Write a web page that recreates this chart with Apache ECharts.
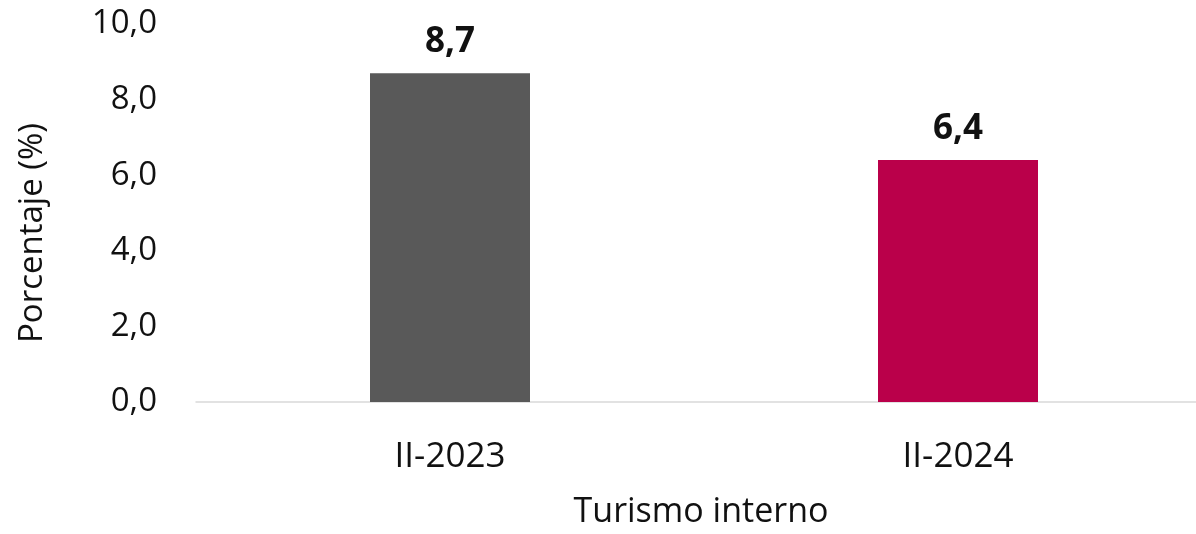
<!DOCTYPE html>
<html><head><meta charset="utf-8">
<script src="https://cdn.jsdelivr.net/npm/echarts@6/dist/echarts.min.js"></script>
<style>html,body{margin:0;padding:0;background:#fff;overflow:hidden;}#c{width:1196px;height:534px;}</style>
</head><body><div id="c"></div>
<script>
const categories = ['II-2023', 'II-2024'];
const values = [8.7, 6.4];
const barColors = ['#595959', '#BA004A'];
const yTicks = [0, 2, 4, 6, 8, 10];
const categoryPositions = [0, 1];

const FONT = '"Open Sans", "Noto Sans", sans-serif';
const chart = echarts.init(document.getElementById('c'), null, {renderer: 'canvas'});
chart.setOption({
  animation: false,
  grid: {left: 196, top: 24, right: 0, height: 381, containLabel: false},
  xAxis: {
    type: 'value', min: -0.5, max: 1.4685,
    name: 'Turismo interno', nameLocation: 'middle', nameGap: 93,
    nameTextStyle: {fontFamily: FONT, fontSize: 34, color: '#111', padding: [0, 0, 0, 10]},
    axisLine: {show: true, onZero: false, lineStyle: {color: '#d9d9d9', width: 1.5}},
    axisTick: {show: false},
    splitLine: {show: false},
    axisLabel: {customValues: categoryPositions, fontFamily: FONT, fontSize: 35, color: '#111', margin: 38,
      formatter: v => categories[Math.round(v)] || ''}
  },
  yAxis: {
    type: 'value', min: yTicks[0], max: yTicks[yTicks.length - 1], interval: 2,
    name: 'Porcentaje (%)', nameLocation: 'middle', nameGap: 147, nameRotate: 90,
    nameTextStyle: {fontFamily: FONT, fontSize: 33, color: '#111', padding: [0, 40, 0, 0]},
    axisLine: {show: false}, axisTick: {show: false}, splitLine: {show: false},
    axisLabel: {fontFamily: FONT, fontSize: 33, color: '#111', margin: 39,
      formatter: v => v.toFixed(1).replace('.', ',')}
  },
  series: [{
    type: 'bar', barWidth: 160,
    data: values.map((v, i) => ({value: [categoryPositions[i], v], itemStyle: {color: barColors[i]}})),
    label: {show: true, position: 'top', distance: 14, fontFamily: FONT, fontSize: 35,
      fontWeight: 'bold', color: '#111', formatter: p => p.value[1].toFixed(1).replace('.', ',')}
  }]
});
</script></body></html>
